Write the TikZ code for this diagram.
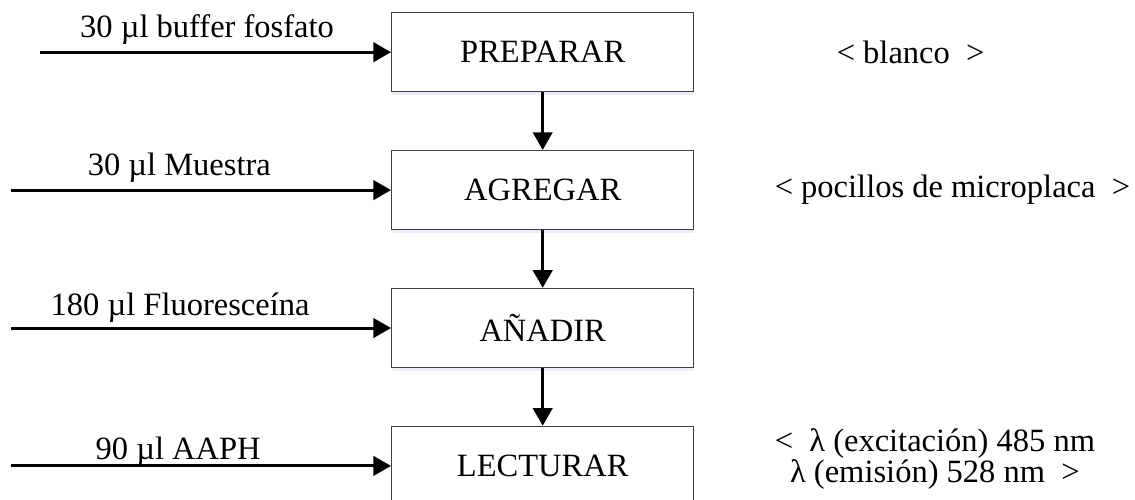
\documentclass[tikz,border=0pt]{standalone}
\usepackage{fontspec}
\setmainfont{Liberation Serif}
\usetikzlibrary{arrows.meta, positioning, shadows}

\begin{document}
\begin{tikzpicture}[
        font=\fontsize{18.5}{17.6}\selectfont,
        node distance=1.15cm and 1.6cm,
        box/.style={draw=black!75, line width=0.8pt, fill=white, rectangle, align=center, minimum width=6.04cm, minimum height=1.58cm,
            drop shadow={fill=blue!15, opacity=0.5, shadow xshift=0.3pt, shadow yshift=-2pt}},
        arrow/.style={-{Triangle[length=10pt, width=11pt]}, line width=1.7pt},
        note/.style={inner sep=0pt, align=center},
        dose/.style={inner sep=2pt, anchor=base}
    ]
        % Frame
        \useasboundingbox (0,0) rectangle (22.7,-10);

        % Steps
        \node[box, anchor=north west] (preparar) at (7.82,-0.24) {PREPARAR};
        \node[box, below=of preparar] (agregar) {AGREGAR};
        \node[box, below=of agregar] (anadir) {AÑADIR};
        \node[box, below=of anadir] (lecturar) {LECTURAR};

        % Inputs
        \coordinate[left=7.02cm of preparar] (in1);
        \coordinate[left=7.6cm of agregar] (in2);
        \coordinate[left=7.6cm of anadir] (in3);
        \coordinate[left=7.6cm of lecturar] (in4);

        % Notes
        \node[note, right=2.84cm of preparar] (blanco) {< blanco~~>};
        \node[note, right=of agregar] (pocillos) {< pocillos de microplaca~~>};
        \node[note, right=of lecturar, yshift=4pt] (lambda) {<\hspace{0.5em}λ (excitación) 485 nm\\λ (emisión) 528 nm~~>};

        % Arrows and Labels
        \draw[arrow] (in1) -- (preparar) node[dose, pos=0.476, yshift=0.3cm] (buffer) {30 µl buffer fosfato};
        \draw[arrow] (in2) -- (agregar) node[dose, pos=0.443, yshift=0.3cm] (muestra) {30 µl Muestra};
        \draw[arrow] (in3) -- (anadir) node[dose, pos=0.445, yshift=0.26cm] (fluo) {180 µl Fluoresceína};
        \draw[arrow] (in4) -- (lecturar) node[dose, pos=0.44, yshift=0.12cm] (aaph) {90 µl AAPH};
        \draw[arrow] (preparar) -- (agregar);
        \draw[arrow] (agregar) -- (anadir);
        \draw[arrow] (anadir) -- (lecturar);
    \end{tikzpicture}
\end{document}
